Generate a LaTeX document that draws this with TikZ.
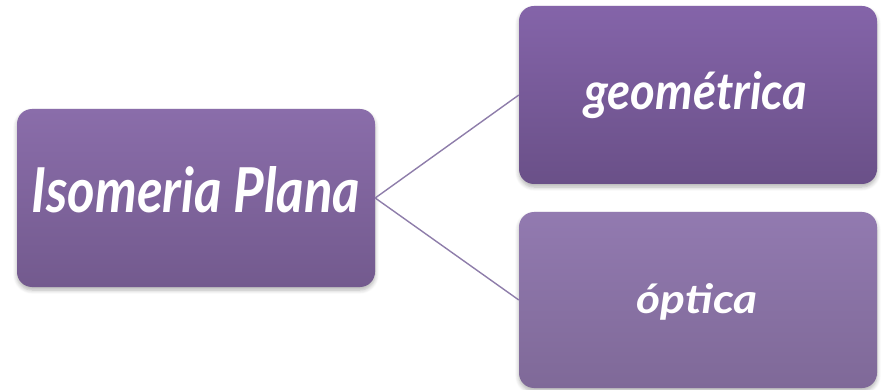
\documentclass[tikz,border=0pt]{standalone}
\usepackage{fontspec}
\setmainfont{Lato}
\usepackage{graphicx}
\usetikzlibrary{shadows.blur}
\definecolor{linec}{HTML}{8E7DAA}
\definecolor{lTop}{HTML}{8A6DAA}
\definecolor{lBot}{HTML}{735A8E}
\definecolor{gTop}{HTML}{8464A9}
\definecolor{gBot}{HTML}{6A5088}
\definecolor{oTop}{HTML}{927AB0}
\definecolor{oBot}{HTML}{7F6998}
\tikzset{
  box/.style={rectangle, rounded corners=15pt, minimum width=358pt, minimum height=178pt, inner sep=0pt, draw=none,
     blur shadow={shadow xshift=0pt, shadow yshift=-3pt, shadow blur steps=6, shadow blur radius=4pt, shadow opacity=30}},
  txt/.style={anchor=base, inner sep=0pt, text=white, font=\bfseries\itshape},
  conn/.style={draw=linec, line width=1.4pt}
}
\begin{document}
\begin{tikzpicture}[x=1pt,y=-1pt]
\useasboundingbox (0,0) rectangle (883,390);
\node[box, top color=lTop, bottom color=lBot] (L) at (196,198) {};
\node[box, top color=gTop, bottom color=gBot] (G) at (698,95) {};
\node[box, top color=oTop, bottom color=oBot, minimum height=176pt] (O) at (698,300) {};
\draw[conn] (L.east) -- (G.west);
\draw[conn] (L.east) -- (O.west);
\node[txt] (Lt) at (196,213) {\resizebox{328pt}{46pt}{Isomeria Plana}};
\node[txt] (Gt) at (696,110) {\resizebox{223pt}{38pt}{geométrica}};
\node[txt] (Ot) at (697,313) {\resizebox{121pt}{30pt}{óptica}};
\end{tikzpicture}
\end{document}
